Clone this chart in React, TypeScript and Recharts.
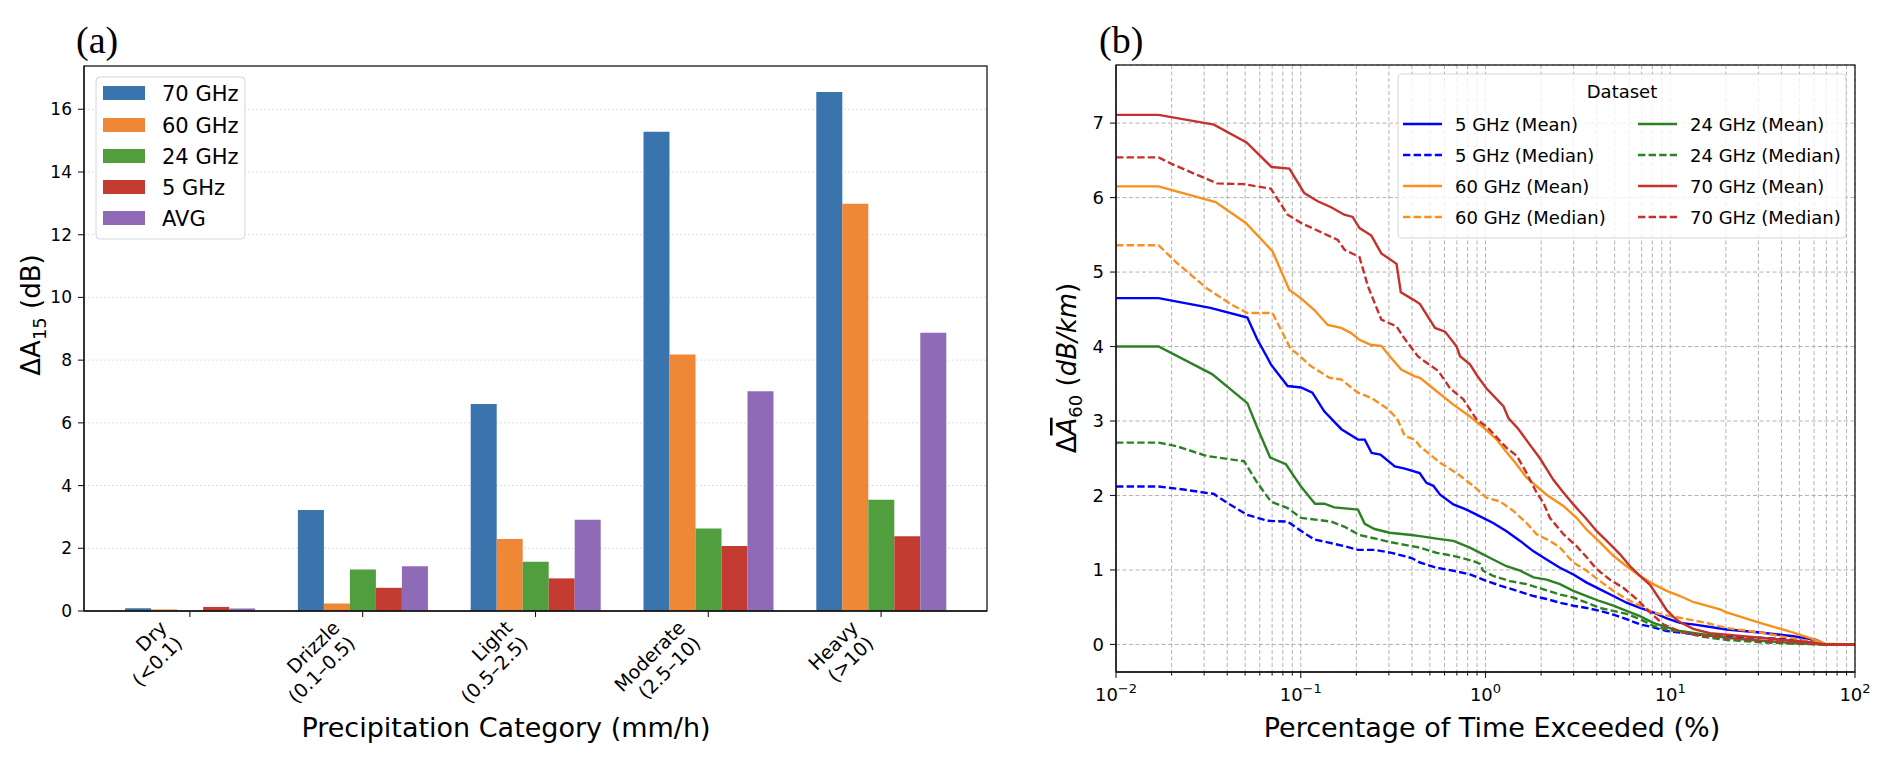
import React from 'react';
import {
  BarChart,
  Bar,
  LineChart,
  Line,
  XAxis,
  YAxis,
  CartesianGrid,
  Label,
} from 'recharts';

const FONT = "'DejaVu Sans', sans-serif";
const SERIF = "'Liberation Serif', 'DejaVu Serif', serif";

// ---------- panel (a): attenuation by precipitation category ----------
const CAT_NAMES = ['Dry', 'Drizzle', 'Light', 'Moderate', 'Heavy'];
const CAT_RANGES = ['(<0.1)', '(0.1–0.5)', '(0.5–2.5)', '(2.5–10)', '(>10)'];
const A15_70 = [0.09, 3.22, 6.6, 15.28, 16.55];
const A15_60 = [0.05, 0.24, 2.3, 8.18, 12.99];
const A15_24 = [0.01, 1.32, 1.57, 2.63, 3.55];
const A15_5 = [0.13, 0.74, 1.04, 2.07, 2.38];
const A15_AVG = [0.08, 1.43, 2.91, 7.01, 8.87];
const A_Y_TICKS = [0, 2, 4, 6, 8, 10, 12, 14, 16];

const BAR_SERIES = [
  { key: 'g70', name: '70 GHz', color: '#3a74ad', values: A15_70 },
  { key: 'g60', name: '60 GHz', color: '#ee8736', values: A15_60 },
  { key: 'g24', name: '24 GHz', color: '#519e3e', values: A15_24 },
  { key: 'g5', name: '5 GHz', color: '#c43b32', values: A15_5 },
  { key: 'avg', name: 'AVG', color: '#8e6ab7', values: A15_AVG },
];

const barData = CAT_NAMES.map((name, i) => {
  const row: any = { name };
  BAR_SERIES.forEach((s) => (row[s.key] = s.values[i]));
  return row;
});

// ---------- panel (b): exceedance curves [percent of time, dB/km] ----------
const GHZ5_MEAN = [
  [0.01, 4.65], [0.017, 4.65], [0.0324, 4.52], [0.0514, 4.39], [0.058, 4.1], [0.066, 3.85],
  [0.0689, 3.76], [0.0849, 3.47], [0.1003, 3.45], [0.1156, 3.38], [0.134, 3.13], [0.166, 2.89],
  [0.204, 2.75], [0.222, 2.75], [0.242, 2.57], [0.27, 2.55], [0.323, 2.39], [0.366, 2.36],
  [0.44, 2.3], [0.479, 2.17], [0.522, 2.13], [0.568, 2.01], [0.67, 1.88], [0.789, 1.81],
  [0.934, 1.72], [1.1, 1.63], [1.3, 1.52], [1.54, 1.39], [1.82, 1.25], [2.14, 1.14],
  [2.53, 1.03], [2.99, 0.94], [3.53, 0.83], [4.17, 0.74], [4.92, 0.65], [5.8, 0.56],
  [6.86, 0.49], [8.1, 0.43], [9.57, 0.35], [11.3, 0.29], [13.3, 0.27], [20.2, 0.2],
  [30.6, 0.16], [46.4, 0.11], [61.7, 0.06], [69, 0.0], [100, 0],
];
const GHZ5_MEDIAN = [
  [0.01, 2.12], [0.017, 2.12], [0.0232, 2.08], [0.0339, 2.02], [0.04, 1.9], [0.0514, 1.74],
  [0.066, 1.66], [0.0849, 1.65], [0.0982, 1.54], [0.1185, 1.41], [0.14, 1.37], [0.1726, 1.32],
  [0.204, 1.27], [0.251, 1.27], [0.31, 1.23], [0.398, 1.16], [0.442, 1.1], [0.544, 1.03],
  [0.67, 0.99], [0.824, 0.94], [0.97, 0.87], [1.2, 0.79], [1.48, 0.72], [1.82, 0.65],
  [2.14, 0.61], [2.53, 0.56], [2.99, 0.52], [3.53, 0.49], [4.17, 0.45], [4.92, 0.4],
  [5.8, 0.34], [6.86, 0.27], [8.1, 0.23], [9.57, 0.18], [11.3, 0.16], [14.5, 0.13],
  [20.2, 0.1], [30.6, 0.09], [46.4, 0.06], [59.5, 0.04], [69, 0], [100, 0],
];
const GHZ24_MEAN = [
  [0.01, 4.0], [0.017, 4.0], [0.0331, 3.63], [0.0514, 3.24], [0.0582, 2.91], [0.0683, 2.51],
  [0.0831, 2.42], [0.1003, 2.12], [0.1194, 1.89], [0.134, 1.89], [0.152, 1.84], [0.204, 1.81],
  [0.222, 1.62], [0.251, 1.55], [0.303, 1.5], [0.398, 1.47], [0.442, 1.455], [0.544, 1.42],
  [0.67, 1.39], [0.824, 1.3], [0.97, 1.21], [1.06, 1.16], [1.3, 1.05], [1.54, 0.99],
  [1.82, 0.9], [2.14, 0.87], [2.53, 0.81], [2.99, 0.72], [3.53, 0.65], [4.17, 0.58],
  [4.92, 0.52], [5.8, 0.45], [6.86, 0.38], [8.1, 0.29], [9.57, 0.23], [11.3, 0.18],
  [14.5, 0.14], [20.2, 0.09], [30.6, 0.05], [46.4, 0.02], [69, 0], [100, 0],
];
const GHZ24_MEDIAN = [
  [0.01, 2.71], [0.017, 2.71], [0.0214, 2.66], [0.0311, 2.53], [0.0493, 2.46], [0.0582, 2.17],
  [0.0689, 1.92], [0.0849, 1.83], [0.1003, 1.7], [0.146, 1.65], [0.1726, 1.58], [0.208, 1.47],
  [0.297, 1.38], [0.398, 1.32], [0.442, 1.3], [0.544, 1.23], [0.67, 1.19], [0.859, 1.12],
  [0.934, 1.08], [0.97, 0.99], [1.1, 0.92], [1.36, 0.85], [1.67, 0.81], [2.06, 0.74],
  [2.53, 0.67], [2.99, 0.63], [3.53, 0.56], [4.17, 0.49], [4.92, 0.45], [5.8, 0.41],
  [6.86, 0.34], [8.1, 0.25], [9.57, 0.2], [11.3, 0.17], [14.5, 0.11], [20.2, 0.06],
  [30.6, 0.03], [46.4, 0.01], [69, 0], [100, 0],
];
const GHZ60_MEAN = [
  [0.01, 6.15], [0.017, 6.15], [0.0346, 5.94], [0.0504, 5.66], [0.0703, 5.28], [0.0868, 4.76],
  [0.1, 4.65], [0.1185, 4.49], [0.14, 4.29], [0.1655, 4.25], [0.1875, 4.18], [0.208, 4.09],
  [0.241, 4.02], [0.273, 4.01], [0.303, 3.87], [0.35, 3.69], [0.414, 3.6], [0.442, 3.58],
  [0.544, 3.4], [0.67, 3.22], [0.824, 3.06], [1.01, 2.88], [1.15, 2.75], [1.3, 2.58],
  [1.45, 2.44], [1.67, 2.24], [2.14, 2.01], [2.64, 1.86], [3.11, 1.7], [3.53, 1.54],
  [4.17, 1.37], [4.92, 1.19], [5.8, 1.05], [6.86, 0.92], [8.1, 0.81], [9.57, 0.72],
  [11.3, 0.65], [13.3, 0.57], [18.6, 0.47], [20.2, 0.43], [30.6, 0.29], [46.4, 0.16],
  [59.5, 0.07], [68.8, 0.01], [100, 0],
];
const GHZ60_MEDIAN = [
  [0.01, 5.36], [0.017, 5.36], [0.0214, 5.12], [0.0311, 4.78], [0.0417, 4.57], [0.0514, 4.45],
  [0.0703, 4.45], [0.0885, 3.96], [0.094, 3.92], [0.113, 3.74], [0.143, 3.58], [0.165, 3.56],
  [0.204, 3.38], [0.241, 3.31], [0.297, 3.16], [0.334, 3.02], [0.366, 2.8], [0.414, 2.75],
  [0.442, 2.66], [0.568, 2.44], [0.698, 2.3], [0.859, 2.13], [1.01, 1.97], [1.2, 1.92],
  [1.42, 1.79], [1.67, 1.63], [1.89, 1.48], [2.23, 1.39], [2.53, 1.3], [2.99, 1.1],
  [3.53, 0.99], [4.17, 0.85], [4.92, 0.72], [5.8, 0.61], [6.86, 0.52], [8.1, 0.43],
  [9.57, 0.39], [12.3, 0.34], [15.7, 0.29], [20.2, 0.22], [30.6, 0.16], [46.4, 0.08],
  [61.7, 0.03], [69, 0], [100, 0],
];
const GHZ70_MEAN = [
  [0.01, 7.11], [0.017, 7.11], [0.0339, 6.98], [0.0509, 6.74], [0.0695, 6.41], [0.0868, 6.39],
  [0.1045, 6.06], [0.1235, 5.95], [0.146, 5.87], [0.172, 5.77], [0.191, 5.74], [0.208, 5.59],
  [0.241, 5.49], [0.273, 5.25], [0.33, 5.11], [0.348, 4.73], [0.406, 4.63], [0.442, 4.57],
  [0.533, 4.25], [0.604, 4.2], [0.698, 4.0], [0.728, 3.87], [0.824, 3.76], [0.895, 3.62],
  [1.01, 3.44], [1.25, 3.2], [1.33, 3.04], [1.51, 2.89], [1.74, 2.68], [1.97, 2.5],
  [2.33, 2.21], [2.64, 2.04], [2.99, 1.88], [3.53, 1.68], [4.0, 1.52], [4.53, 1.39],
  [5.35, 1.21], [6.06, 1.05], [6.86, 0.92], [7.77, 0.8], [8.8, 0.6], [9.57, 0.46],
  [10.5, 0.36], [11.3, 0.3], [13.3, 0.21], [16.4, 0.15], [24.9, 0.11], [37.7, 0.07],
  [57, 0.03], [69, 0], [100, 0],
];
const GHZ70_MEDIAN = [
  [0.01, 6.54], [0.017, 6.54], [0.0205, 6.44], [0.0353, 6.19], [0.0493, 6.18], [0.0689, 6.12],
  [0.0849, 5.77], [0.1003, 5.66], [0.1588, 5.43], [0.1726, 5.3], [0.208, 5.2], [0.231, 4.81],
  [0.273, 4.36], [0.33, 4.27], [0.366, 4.1], [0.43, 3.87], [0.451, 3.83], [0.556, 3.67],
  [0.643, 3.44], [0.759, 3.29], [0.895, 3.02], [1.01, 2.93], [1.15, 2.78], [1.3, 2.64],
  [1.48, 2.53], [1.67, 2.3], [1.89, 2.04], [2.06, 1.9], [2.23, 1.7], [2.64, 1.48],
  [3.11, 1.32], [3.53, 1.17], [4.0, 1.01], [4.72, 0.87], [5.57, 0.76], [6.58, 0.61],
  [7.77, 0.43], [9.18, 0.27], [11.3, 0.17], [14.5, 0.12], [20.2, 0.09], [30.6, 0.05],
  [46.4, 0.03], [69, 0], [100, 0],
];

const X_TICKS = [
  0.01, 0.02, 0.03, 0.04, 0.05, 0.06, 0.07, 0.08, 0.09,
  0.1, 0.2, 0.3, 0.4, 0.5, 0.6, 0.7, 0.8, 0.9,
  1, 2, 3, 4, 5, 6, 7, 8, 9,
  10, 20, 30, 40, 50, 60, 70, 80, 90, 100,
];
const X_MAJOR = [0.01, 0.1, 1, 10, 100];
const X_EXP = ['−2', '−1', '0', '1', '2'];
const B_Y_TICKS = [0, 1, 2, 3, 4, 5, 6, 7];

const BLUE = '#0000ff';
const ORANGE = '#f98f1d';
const GREEN = '#2b8123';
const RED = '#c5312b';

const B_SERIES = [
  { name: '5 GHz (Mean)', color: BLUE, dashed: false, points: GHZ5_MEAN },
  { name: '5 GHz (Median)', color: BLUE, dashed: true, points: GHZ5_MEDIAN },
  { name: '60 GHz (Mean)', color: ORANGE, dashed: false, points: GHZ60_MEAN },
  { name: '60 GHz (Median)', color: ORANGE, dashed: true, points: GHZ60_MEDIAN },
  { name: '24 GHz (Mean)', color: GREEN, dashed: false, points: GHZ24_MEAN },
  { name: '24 GHz (Median)', color: GREEN, dashed: true, points: GHZ24_MEDIAN },
  { name: '70 GHz (Mean)', color: RED, dashed: false, points: GHZ70_MEAN },
  { name: '70 GHz (Median)', color: RED, dashed: true, points: GHZ70_MEDIAN },
];

const DASH = '7.4 3.2';
const LINE_W = 2.4;
const SPINE = { stroke: '#1a1a1a', strokeWidth: 1.3 };
const TICK_LINE = { stroke: '#1a1a1a', strokeWidth: 1.1 };

// plot boxes (page pixels) used for the frame of each panel
const BOX_A = { x: 84, y: 66, w: 903, h: 545 };
const BOX_B = { x: 1116, y: 65, w: 739, h: 607 };

function CategoryTick(props: any) {
  const { x, y, payload } = props;
  const i = CAT_NAMES.indexOf(payload.value);
  return (
    <g transform={`translate(${x - 22},${y + 12}) rotate(-45)`}>
      <text textAnchor="end" fontSize={19} fontFamily={FONT} fill="#000">
        <tspan x={0} dy={0}>{payload.value}</tspan>
        <tspan x={0} dy={22}>{CAT_RANGES[i]}</tspan>
      </text>
    </g>
  );
}

function LogTick(props: any) {
  const { x, y, payload } = props;
  const v = payload.value;
  const k = X_MAJOR.findIndex((m) => Math.abs(m - v) / m < 1e-6);
  const len = k >= 0 ? 6 : 3.5;
  return (
    <g>
      <line x1={x} x2={x} y1={y} y2={y + len} {...TICK_LINE} />
      {k >= 0 && (
        <text x={x} y={y + 29} textAnchor="middle" fontSize={18} fontFamily={FONT} fill="#000">
          10
          <tspan dy={-8} fontSize={13}>{X_EXP[k]}</tspan>
        </text>
      )}
    </g>
  );
}

function PanelA() {
  return (
    <BarChart
      width={1000}
      height={761}
      data={barData}
      margin={{ top: 66, right: 13, bottom: 50, left: 24 }}
      barCategoryGap={21.6}
      barGap={0}
    >
      <CartesianGrid vertical={false} stroke="#d4d4d4" strokeDasharray="2 2" strokeWidth={0.8} />
      <XAxis
        dataKey="name"
        height={100}
        interval={0}
        padding={{ left: 19.5, right: 19.5 }}
        axisLine={SPINE}
        tickLine={TICK_LINE}
        tickSize={6}
        tickMargin={0}
        tick={<CategoryTick />}
      >
        <Label
          content={() => (
            <text x={506} y={737} textAnchor="middle" fontSize={27} fontFamily={FONT} fill="#000">
              Precipitation Category (mm/h)
            </text>
          )}
        />
      </XAxis>
      <YAxis
        width={60}
        domain={[0, 17.38]}
        ticks={A_Y_TICKS}
        allowDataOverflow
        axisLine={SPINE}
        tickLine={TICK_LINE}
        tickSize={6}
        tickMargin={6}
        tick={{ fontSize: 17, fill: '#000', fontFamily: FONT }}
      >
        <Label
          content={() => (
            <text transform="translate(40,315) rotate(-90)" textAnchor="middle" fontSize={26} fontFamily={FONT} fill="#000">
              ΔA<tspan dy={6} fontSize={18}>15</tspan>
              <tspan dy={-6}> (dB)</tspan>
            </text>
          )}
        />
      </YAxis>
      {BAR_SERIES.map((s) => (
        <Bar key={s.key} dataKey={s.key} name={s.name} fill={s.color} isAnimationActive={false} />
      ))}
    </BarChart>
  );
}

function PanelB() {
  return (
    <LineChart width={890} height={761} margin={{ top: 65, right: 35, bottom: 39, left: 66 }}>
      <CartesianGrid stroke="#a9a9a9" strokeDasharray="4 2.5" strokeWidth={0.9} />
      <XAxis
        dataKey="x"
        type="number"
        scale="log"
        domain={[0.01, 100]}
        allowDataOverflow
        ticks={X_TICKS}
        interval={0}
        height={50}
        axisLine={SPINE}
        tickLine={false}
        tickSize={0}
        tickMargin={0}
        tick={<LogTick />}
      >
        <Label
          content={() => (
            <text x={492} y={737} textAnchor="middle" fontSize={27} fontFamily={FONT} fill="#000">
              Percentage of Time Exceeded (%)
            </text>
          )}
        />
      </XAxis>
      <YAxis
        width={50}
        domain={[-0.37, 7.78]}
        ticks={B_Y_TICKS}
        allowDataOverflow
        axisLine={SPINE}
        tickLine={TICK_LINE}
        tickSize={6}
        tickMargin={6}
        tick={{ fontSize: 18, fill: '#000', fontFamily: FONT }}
      >
        <Label
          content={() => (
            <text transform="translate(76,368) rotate(-90)" textAnchor="middle" fontSize={26} fontFamily={FONT} fill="#000">
              Δ<tspan fontStyle="italic" textDecoration="overline">A</tspan>
              <tspan dy={6} fontSize={18}>60</tspan>
              <tspan dy={-6}> (</tspan>
              <tspan fontStyle="italic">dB/km</tspan>
              <tspan>)</tspan>
            </text>
          )}
        />
      </YAxis>
      {B_SERIES.map((s) => (
        <Line
          key={s.name}
          name={s.name}
          data={s.points.map(([x, y]) => ({ x, y }))}
          dataKey="y"
          stroke={s.color}
          strokeWidth={LINE_W}
          strokeDasharray={s.dashed ? DASH : undefined}
          dot={false}
          activeDot={false}
          isAnimationActive={false}
        />
      ))}
    </LineChart>
  );
}

function Overlay() {
  const rowsA = [93, 125, 156, 187, 218];
  const rowsB = [124, 155, 186, 217];
  return (
    <svg width={1892} height={761} style={{ position: 'absolute', left: 0, top: 0, pointerEvents: 'none' }}>
      <rect x={BOX_A.x} y={BOX_A.y} width={BOX_A.w} height={BOX_A.h} fill="none" {...SPINE} />
      <rect x={BOX_B.x} y={BOX_B.y} width={BOX_B.w} height={BOX_B.h} fill="none" {...SPINE} />

      <text x={76} y={53} fontSize={38} fontFamily={SERIF} fill="#000">(a)</text>
      <text x={1099} y={53} fontSize={38} fontFamily={SERIF} fill="#000">(b)</text>

      <rect x={96} y={77} width={149} height={162} rx={4} fill="#fff" fillOpacity={0.8} stroke="#d6d6d6" />
      {BAR_SERIES.map((s, i) => (
        <g key={s.key}>
          <rect x={103} y={rowsA[i] - 7} width={42} height={14} fill={s.color} />
          <text x={162} y={rowsA[i] + 7.5} fontSize={21} fontFamily={FONT} fill="#000">{s.name}</text>
        </g>
      ))}

      <rect x={1398} y={74} width={448} height={164} rx={4} fill="#fff" fillOpacity={0.8} stroke="#d6d6d6" />
      <text x={1622} y={97.5} textAnchor="middle" fontSize={18} fontFamily={FONT} fill="#000">Dataset</text>
      {B_SERIES.map((s, i) => {
        const col = Math.floor(i / 4);
        const yy = rowsB[i % 4];
        const x1 = col === 0 ? 1403 : 1638;
        const tx = col === 0 ? 1455 : 1690;
        return (
          <g key={s.name}>
            <line x1={x1} x2={x1 + 39} y1={yy} y2={yy} stroke={s.color} strokeWidth={LINE_W} strokeDasharray={s.dashed ? DASH : undefined} />
            <text x={tx} y={yy + 6.5} fontSize={18} fontFamily={FONT} fill="#000">{s.name}</text>
          </g>
        );
      })}
    </svg>
  );
}

export default function App() {
  return (
    <div style={{ position: 'absolute', left: 0, top: 0, width: 1892, height: 761, overflow: 'hidden', background: '#fff', fontFamily: FONT }}>
      <div style={{ position: 'absolute', left: 0, top: 0 }}>
        <PanelA />
      </div>
      <div style={{ position: 'absolute', left: 1000, top: 0 }}>
        <PanelB />
      </div>
      <Overlay />
    </div>
  );
}
